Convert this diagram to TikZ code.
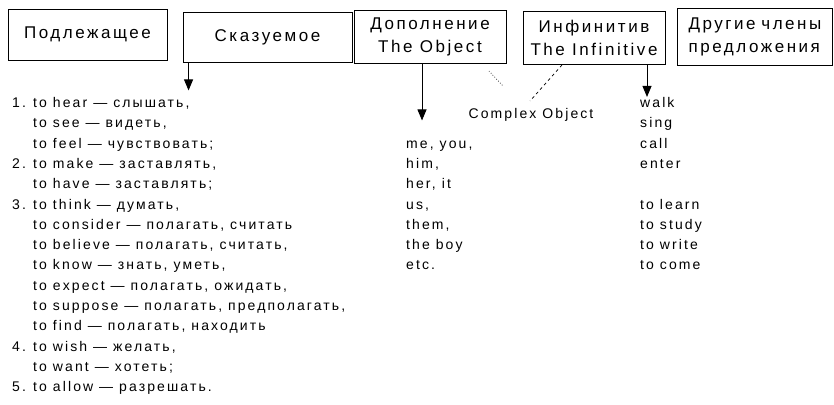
\documentclass[tikz,border=0pt]{standalone}
\usepackage{fontspec}
\setmainfont{Liberation Sans}[LetterSpace=15]
\usetikzlibrary{arrows.meta}
\begin{document}
\begin{tikzpicture}[x=1pt,y=-1pt,
  box/.style={draw, line width=0.9pt, inner sep=0pt, align=center, font=\fontsize{17}{23}\selectfont},
  row/.style={anchor=west, inner sep=0pt, text height=10pt, text depth=3pt, font=\fontsize{14}{16}\selectfont},
  arr/.style={line width=0.9pt, -{Triangle[width=9pt,length=11pt]}},
  lnk/.style={line width=0.7pt}]
\useasboundingbox (0,0) rectangle (834,404);
% boxes
\node[box, minimum width=159pt, minimum height=51pt] (b1) at (87.5,34.5) {Подлежащее};
\node[box, minimum width=169pt, minimum height=50pt] (b2) at (267.5,37) {Сказуемое};
\node[box, minimum width=152pt, minimum height=53pt] (b3) at (430,36.5) {Дополнение\\The Object};
\node[box, minimum width=142pt, minimum height=53pt] (b4) at (594,38) {Инфинитив\\The Infinitive};
\node[box, align=left, text width=133pt, inner xsep=11pt, minimum height=57pt] (b5) at (755,36.5) {Другие члены\\предложения};
% left column
\def\rs{20.3}
\foreach \k/\t in {0/{\makebox[21pt][l]{1.}to hear — слышать,},
  1/{\makebox[21pt][l]{}to see — видеть,},
  2/{\makebox[21pt][l]{}to feel — чувствовать;},
  3/{\makebox[21pt][l]{2.}to make — заставлять,},
  4/{\makebox[21pt][l]{}to have — заставлять;},
  5/{\makebox[21pt][l]{3.}to think — думать,},
  6/{\makebox[21pt][l]{}to consider — полагать, считать},
  7/{\makebox[21pt][l]{}to believe — полагать, считать,},
  8/{\makebox[21pt][l]{}to know — знать, уметь,},
  9/{\makebox[21pt][l]{}to expect — полагать, ожидать,},
  10/{\makebox[21pt][l]{}to suppose — полагать, предполагать,},
  11/{\makebox[21pt][l]{}to find — полагать, находить},
  12/{\makebox[21pt][l]{4.}to wish — желать,},
  13/{\makebox[21pt][l]{}to want — хотеть;},
  14/{\makebox[21pt][l]{5.}to allow — разрешать.}}
  \node[row] (l\k) at (12,104+\rs*\k) {\t};
% middle column
\foreach \k/\t in {2/{me, you,},3/{him,},4/{her, it},5/{us,},6/{them,},7/{the boy},8/{etc.}}
  \node[row] (m\k) at (406,104+\rs*\k) {\t};
% right column
\foreach \k/\t in {0/walk,1/sing,2/call,3/enter,5/{to learn},6/{to study},7/{to write},8/{to come}}
  \node[row] (r\k) at (640,104+\rs*\k) {\t};
\node[row, anchor=center] (co) at (531,115) {Complex Object};
% connectors
\draw[arr] ([xshift=6pt]b2.south west) -- ++(0,28);
\draw[arr] ([xshift=-8pt]b3.south) -- ++(0,57);
\draw[arr] ([xshift=53pt]b4.south) -- ++(0,32);
\coordinate (d1) at (489,71);
\coordinate (d2) at (503,86);
\draw[lnk, dotted] (d1) -- (d2);
\coordinate (c1) at (530,101);
\draw[lnk, dashed] ([xshift=-32pt]b4.south) -- (c1);
\end{tikzpicture}
\end{document}
